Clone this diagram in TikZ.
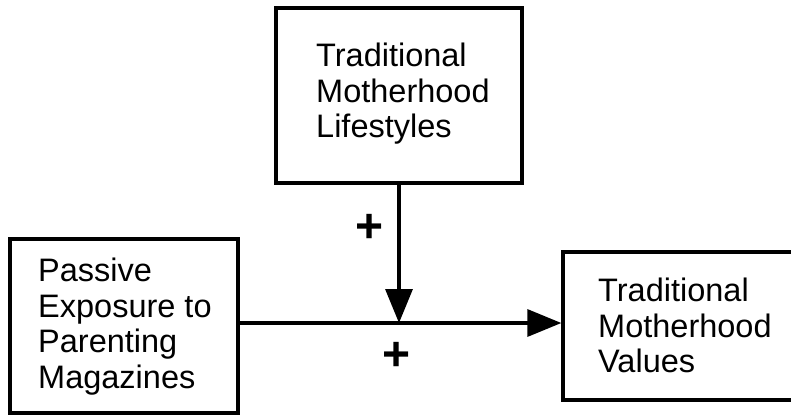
\documentclass[tikz,border=0pt]{standalone}
\usepackage{fontspec}
\setmainfont{Liberation Sans}
\usetikzlibrary{arrows.meta}
\begin{document}
\begin{tikzpicture}[x=1pt,y=-1pt,
  varbox/.style={draw,line width=3.3pt,inner sep=0pt},
  label/.style={align=left,inner sep=0pt,anchor=north west,
    font=\fontsize{32.5}{35.5}\selectfont},
  sign/.style={inner sep=0pt,font=\fontsize{48}{48}\selectfont\bfseries},
  link/.style={line width=3.3pt,-{Triangle[length=34pt,width=27pt]}}]
  \useasboundingbox (0,0) rectangle (791,418);

  % variable boxes
  \node[varbox,minimum width=246pt,minimum height=175pt] (lifestyles) at (399,95.5) {};
  \node[varbox,minimum width=228pt,minimum height=174pt] (exposure) at (124,326) {};
  \node[varbox,minimum width=232pt,minimum height=148pt] (values) at (679,326) {};

  % box texts
  \node[label] (lifestyles-t) at (316,43) {Traditional\\Motherhood\\Lifestyles};
  \node[label] (exposure-t) at (38,258) {Passive\\Exposure to\\Parenting\\Magazines};
  \node[label] (values-t) at (598,278) {Traditional\\Motherhood\\Values};

  % paths
  \coordinate (join) at (399,323);
  \draw[link] (exposure.east |- join) -- (values.west |- join);
  \draw[link] (lifestyles.south) -- (join);

  % signs
  \node[sign] (plus-mod) at (370,228) {+};
  \node[sign] (plus-main) at (397,356) {+};
\end{tikzpicture}
\end{document}
